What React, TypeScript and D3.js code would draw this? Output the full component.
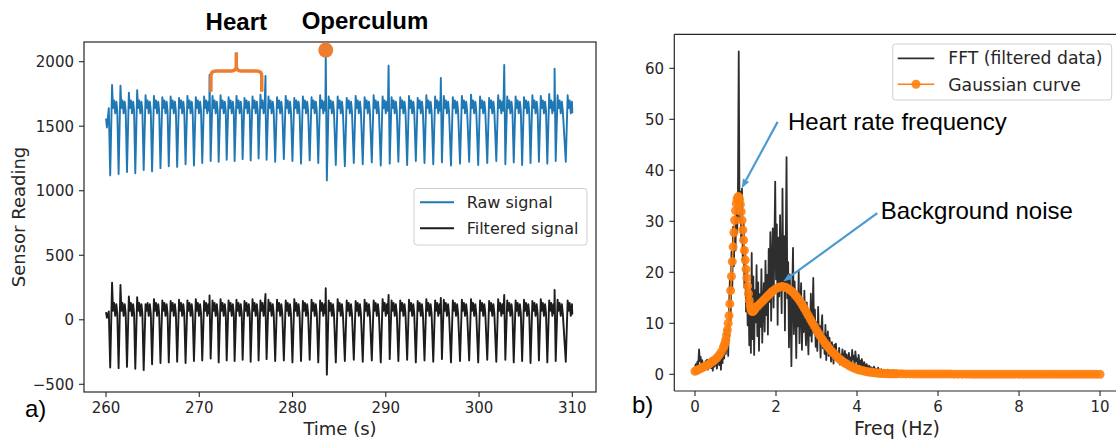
import React from 'react';
import * as d3 from 'd3';

// ---------- panel a) : sensor signals ----------
const timeTicks = [260, 270, 280, 290, 300, 310];
const readingTicks = [-500, 0, 500, 1000, 1500, 2000];

// trough time of each heart beat (s)
const beatTimes = [
  260.45, 261.35, 262.25, 263.14, 264.04, 264.94, 265.84, 266.73, 267.63, 268.53, 269.43, 270.32, 271.22,
  272.08, 272.94, 273.79, 274.65, 275.51, 276.36, 277.22,
  278.14, 279.07, 279.99, 280.91, 281.84, 282.76, 283.68,
  284.64, 285.61, 286.57, 287.53, 288.50, 289.46, 290.42,
  291.35, 292.29, 293.22, 294.15, 295.09, 296.02,
  296.99, 297.96, 298.94, 299.91, 300.88, 301.85, 302.82,
  303.72, 304.62, 305.52, 306.42, 307.32, 308.22,
  309.30,
];
const rawTroughs = [
  1119, 1130, 1145, 1135, 1160, 1150, 1175, 1190, 1185, 1205, 1195, 1215, 1230,
  1225, 1240, 1230, 1245, 1235, 1250, 1240,
  1225, 1245, 1230, 1210, 1235, 1215, 1080,
  1200, 1190, 1215, 1205, 1220, 1195, 1210,
  1225, 1200, 1230, 1215, 1205, 1220,
  1195, 1210, 1225, 1200, 1215, 1230, 1205,
  1220, 1200, 1215, 1225, 1210, 1230,
  1225,
];
const rawPeaks = [
  1820, 1815, 1760, 1780, 1740, 1735, 1725, 1730, 1720, 1735, 1725, 1730, 1735,
  1740, 1725, 1735, 1720, 1730, 1745, 1730,
  1725, 1735, 1720, 1730, 1725, 1740, 1730,
  1730, 1720, 1735, 1725, 1740, 1730, 1725,
  1725, 1735, 1720, 1740, 1730, 1735,
  1725, 1735, 1745, 1730, 1720, 1740, 1730,
  1730, 1725, 1740, 1735, 1750, 1740,
  1740,
];
const filtTroughs = [
  -370, -375, -365, -380, -390, -345, -335, -330, -325, -335, -320, -315, -300,
  -330, -315, -320, -310, -325, -315, -305,
  -320, -315, -330, -320, -310, -330, -425,
  -330, -320, -310, -325, -315, -330, -305,
  -320, -310, -330, -315, -325, -305,
  -330, -320, -315, -330, -310, -325, -310,
  -330, -320, -335, -315, -330, -320,
  -325,
];
const filtPeaks = [
  288, 270, 180, 175, 120, 160, 150, 145, 155, 150, 160, 145, 150,
  160, 150, 155, 145, 160, 150, 155,
  155, 150, 160, 145, 155, 150, 150,
  160, 150, 145, 155, 150, 160, 150,
  150, 155, 145, 160, 150, 155,
  150, 155, 160, 150, 145, 160, 150,
  150, 155, 145, 160, 150, 155,
  150,
];
// what each beat does after its trough and peak
const peakDelay = 0.2;
const beatShapeDt = [0.3, 0.42, 0.54, 0.66, 0.76];
const rawShape = [1640, 1700, 1600, 1690, 1620];
const filtShape = [70, 130, 30, 120, 50];
const rawStart: [number, number][] = [[260.0, 1560], [260.1, 1490], [260.3, 1640]];
const filtStart: [number, number][] = [[260.0, 60], [260.1, 15], [260.3, 65]];
const signalEnd = 310.0;
const rawEnd = 1600;
const filtEnd = 40;
// tall spikes (operculum movement etc.)
const spikeTimes = [271.1, 277.1, 283.56, 290.3, 295.9, 302.7, 308.1];
const rawSpikeTops = [1897, 1890, 2080, 1970, 1874, 1975, 1945];
const filtSpikeTops = [188, 200, 245, 193, 170, 193, 232];

// ---------- panel b) : spectrum ----------
const freqTicks = [0, 2, 4, 6, 8, 10];
const ampTicks = [0, 10, 20, 30, 40, 50, 60];

const fftStep = 0.02;
const fftValues = [
  1.5, 2.0, 1.2, 2.5, 1.8, 4.9, 2.6, 3.4, 1.5, 2.8,
  1.0, 2.2, 0.8, 2.6, 1.4, 2.9, 0.9, 2.0, 1.6, 3.1,
  1.2, 2.4, 0.7, 3.2, 1.5, 2.1, 3.6, 1.1, 2.7, 4.2,
  1.8, 3.9, 0.9, 4.6, 2.2, 6.8, 3.1, 8.7, 4.0, 7.3,
  9.5, 3.6, 12.8, 18.4, 10.6, 24.0, 16.7, 28.9, 21.2, 30.5,
  24.3, 33.1, 27.6, 35.0, 63.3, 30.2, 35.8, 26.1, 36.4, 22.5,
  29.7, 17.0, 24.9, 12.3, 20.4, 9.6, 16.8, 5.7, 14.3, 4.2,
  23.8, 6.9, 19.2, 3.8, 16.5, 10.2, 21.4, 7.5, 18.0, 4.6,
  15.7, 9.3, 20.6, 6.2, 13.8, 17.9, 8.4, 22.3, 11.6, 19.5,
  7.8, 24.6, 14.2, 27.9, 10.5, 22.8, 28.6, 13.1, 25.4, 37.8,
  18.6, 29.4, 9.7, 26.8, 15.3, 31.2, 20.5, 12.0, 36.4, 17.4,
  27.1, 8.6, 24.7, 42.6, 14.9, 22.0, 5.3, 19.6, 11.8, 1.6,
  16.4, 24.8, 7.9, 18.2, 12.7, 3.2, 15.5, 9.4, 20.3, 6.1,
  13.6, 17.9, 4.8, 12.2, 8.3, 16.4, 10.0, 5.7, 14.1, 9.2,
  3.9, 12.5, 7.6, 15.8, 6.4, 11.0, 18.9, 8.1, 12.7, 5.4,
  10.3, 4.6, 13.2, 7.0, 9.5, 3.3, 8.8, 11.6, 5.1, 7.9,
  4.0, 9.7, 2.8, 6.9, 8.4, 3.6, 7.2, 5.0, 2.5, 6.3,
  4.7, 2.1, 5.8, 3.4, 6.0, 2.6, 4.4, 3.1, 5.2, 1.9,
  3.8, 2.7, 4.9, 1.8, 3.5, 4.6, 2.4, 3.9, 1.6, 3.0,
  4.2, 2.3, 3.3, 1.5, 4.8, 2.9, 3.6, 1.7, 4.5, 2.6,
  3.1, 1.4, 3.8, 2.0, 2.7, 1.2, 3.0, 1.9, 1.1, 2.4,
  1.6, 0.9, 2.0, 1.3, 0.8, 1.7, 1.0, 1.4, 0.6, 1.2,
  0.9, 1.5, 0.5, 1.1, 0.8, 0.4, 1.3, 0.7, 0.9, 0.3,
  1.0, 0.6, 0.4, 0.9, 0.5, 0.8, 0.3, 0.6, 0.9, 0.4,
  0.7, 0.3, 0.6, 0.4, 0.8, 0.3, 0.5, 0.2, 0.6, 0.4,
  0.3, 0.5, 0.2, 0.4, 0.3, 0.6, 0.2, 0.3, 0.4, 0.2,
  0.3, 0.2, 0.4, 0.1, 0.3, 0.2, 0.2, 0.1, 0.2, 0.1,
];
const fftTailStart = 5.4;
const fftTailStep = 0.2;
const fftTail = [
  0.1, 0.2, 0.1, 0.1, 0.2, 0.1, 0.1, 0.1, 0.0, 0.1, 0.1, 0.0,
  0.1, 0.0, 0.1, 0.0, 0.0, 0.1, 0.0, 0.0, 0.1, 0.0, 0.0, 0.0,
];

// gaussian fit, sampled in segments of different spacing
const gaussSegments = [
  { start: 0, step: 0.05, values: [0.6, 0.8, 1.0, 1.2, 1.4, 1.6, 1.8, 2.0, 2.3, 2.6, 2.9, 3.3, 3.8, 4.4, 5.2] },
  {
    start: 0.72, step: 0.02, values: [
      5.6, 6.1, 6.8, 7.7, 8.7, 10.0, 11.5, 13.8, 16.4, 19.2,
      22.1, 25.0, 27.8, 30.2, 32.1, 33.5, 34.4, 34.8, 34.8, 34.3,
      33.3, 31.9, 30.2, 28.3, 26.3, 24.3, 22.4, 20.6, 18.9, 17.3,
      15.8, 14.5, 13.5, 12.8, 12.4, 12.3, 12.4, 12.6, 12.8, 13.1,
    ],
  },
  {
    start: 1.55, step: 0.05, values: [
      13.4, 13.8, 14.2, 14.6, 15.0, 15.4, 15.8, 16.2, 16.5, 16.8,
      17.0, 17.1, 17.2, 17.1, 17.0, 16.8, 16.5, 16.2, 15.8, 15.3,
      14.8, 14.2, 13.6, 12.9, 12.2, 11.5, 10.8, 10.1, 9.4, 8.7,
      8.0, 7.4, 6.8, 6.2, 5.7, 5.2, 4.7, 4.3, 3.9, 3.5,
      3.1, 2.8, 2.5, 2.2, 2.0, 1.7, 1.5, 1.3, 1.2, 1.0,
      0.9, 0.8, 0.7, 0.6, 0.5, 0.45, 0.4, 0.35, 0.3, 0.25,
      0.22, 0.2, 0.17, 0.15, 0.13, 0.12, 0.1, 0.1, 0.1, 0.1,
    ],
  },
  {
    start: 5.1, step: 0.1, values: [
      0.09, 0.08, 0.08, 0.07, 0.07, 0.06, 0.06, 0.05, 0.05, 0.05,
      0.04, 0.04, 0.04, 0.03, 0.03, 0.03, 0.03, 0.02, 0.02, 0.02,
      0.02, 0.02, 0.02, 0.01, 0.01, 0.01, 0.01, 0.01, 0.01, 0.01,
      0.01, 0.01, 0.01, 0.01, 0.0, 0.0, 0.0, 0.0, 0.0, 0.0,
      0.0, 0.0, 0.0, 0.0, 0.0, 0.0, 0.0, 0.0, 0.0, 0.0,
    ],
  },
];

const BLUE = '#1f77b4';
const BLACK = '#1c1c1c';
const FFT_GREY = '#2e2e2e';
const ORANGE = '#ff7f0e';
const ANNOT = '#ed7d31';
const ARROW = '#4c9bd0';
const AXIS = '#262626';
const TICK_FONT = 'DejaVu Sans, sans-serif';
const ARIAL = 'Liberation Sans, Arial, sans-serif';

function buildSignal(start: [number, number][], troughs: number[], peaks: number[], shape: number[], spikes: number[], end: number) {
  const pts: [number, number][] = [...start];
  beatTimes.forEach((t, i) => {
    pts.push([t, troughs[i]]);
    pts.push([t + peakDelay, peaks[i]]);
    beatShapeDt.forEach((dt, k) => {
      if (t + dt < signalEnd) pts.push([t + dt, shape[k]]);
    });
  });
  spikeTimes.forEach((t, i) => pts.push([t, spikes[i]]));
  pts.push([signalEnd, end]);
  pts.sort((a, b) => a[0] - b[0]);
  return pts;
}

export default function App() {
  // panel a
  const A = { x0: 84, x1: 596, y0: 42, y1: 392 };
  const xA = d3.scaleLinear().domain([257.64, 312.54]).range([A.x0, A.x1]);
  const yA = d3.scaleLinear().domain([-559.7, 2152.7]).range([A.y1, A.y0]);
  const lineA = d3.line<[number, number]>().x(d => xA(d[0])).y(d => yA(d[1]));
  const rawPts = buildSignal(rawStart, rawTroughs, rawPeaks, rawShape, rawSpikeTops, rawEnd);
  const filtPts = buildSignal(filtStart, filtTroughs, filtPeaks, filtShape, filtSpikeTops, filtEnd);

  // panel b
  const B = { x0: 674.3, x1: 1120.3, y0: 34.3, y1: 391 };
  const xB = d3.scaleLinear().domain([-0.511, 10.5]).range([B.x0, B.x1]);
  const yB = d3.scaleLinear().domain([-3.27, 66.67]).range([B.y1, B.y0]);
  const lineB = d3.line<[number, number]>().x(d => xB(d[0])).y(d => yB(d[1]));
  const fftPts: [number, number][] = [
    ...fftValues.map((v, i) => [i * fftStep, v] as [number, number]),
    ...fftTail.map((v, i) => [fftTailStart + i * fftTailStep, v] as [number, number]),
  ];
  const gaussPts: [number, number][] = gaussSegments.flatMap(s =>
    s.values.map((v, i) => [s.start + i * s.step, v] as [number, number])
  );

  // bracket over a few heart beats
  const bx0 = xA(271.25), bx1 = xA(276.7), bxm = xA(273.97);
  const byArm = yA(1768), byBar = yA(1928), byTip = yA(2073);
  const rr = 5;
  const bracket = `M${bx0},${byArm} L${bx0},${byBar + rr} Q${bx0},${byBar} ${bx0 + rr},${byBar} L${bxm - rr},${byBar} Q${bxm},${byBar} ${bxm},${byBar - rr} L${bxm},${byTip} M${bxm},${byBar - rr} Q${bxm},${byBar} ${bxm + rr},${byBar} L${bx1 - rr},${byBar} Q${bx1},${byBar} ${bx1},${byBar + rr} L${bx1},${byArm}`;

  const arrow = (fx0: number, fy0: number, fx1: number, fy1: number, key: string) => {
    const x0 = xB(fx0), y0 = yB(fy0), x1 = xB(fx1), y1 = yB(fy1);
    const ang = Math.atan2(y1 - y0, x1 - x0);
    const hl = 9, hw = 3.5;
    const bxp = x1 - hl * Math.cos(ang), byp = y1 - hl * Math.sin(ang);
    const px = -Math.sin(ang) * hw, py = Math.cos(ang) * hw;
    return (
      <g key={key}>
        <line x1={x0} y1={y0} x2={bxp} y2={byp} stroke={ARROW} strokeWidth={2.2} />
        <polygon points={`${x1},${y1} ${bxp + px},${byp + py} ${bxp - px},${byp - py}`} fill={ARROW} />
      </g>
    );
  };

  return (
    <svg width={1116} height={443} style={{ position: 'absolute', left: 0, top: 0, background: '#fff' }}>
      {/* ===== panel a ===== */}
      <path d={lineA(rawPts) ?? ''} fill="none" stroke={BLUE} strokeWidth={1.9} strokeLinejoin="round" />
      <path d={lineA(filtPts) ?? ''} fill="none" stroke={BLACK} strokeWidth={1.9} strokeLinejoin="round" />
      <rect x={A.x0} y={A.y0} width={A.x1 - A.x0} height={A.y1 - A.y0} fill="none" stroke={AXIS} strokeWidth={1.2} />
      {timeTicks.map(t => (
        <g key={`xa${t}`}>
          <line x1={xA(t)} x2={xA(t)} y1={A.y1} y2={A.y1 + 5} stroke={AXIS} strokeWidth={1.1} />
          <text x={xA(t)} y={412.5} textAnchor="middle" fontFamily={TICK_FONT} fontSize={15} fill={AXIS}>{t}</text>
        </g>
      ))}
      {readingTicks.map(t => (
        <g key={`ya${t}`}>
          <line x1={A.x0 - 5} x2={A.x0} y1={yA(t)} y2={yA(t)} stroke={AXIS} strokeWidth={1.1} />
          <text x={74} y={yA(t) + 5.4} textAnchor="end" fontFamily={TICK_FONT} fontSize={15} fill={AXIS}>{t < 0 ? `−${-t}` : t}</text>
        </g>
      ))}
      <text x={(A.x0 + A.x1) / 2} y={435} textAnchor="middle" fontFamily={TICK_FONT} fontSize={18} fill={AXIS}>Time (s)</text>
      <text transform={`translate(25,${(A.y0 + A.y1) / 2}) rotate(-90)`} textAnchor="middle" fontFamily={TICK_FONT} fontSize={18} fill={AXIS}>Sensor Reading</text>

      {/* legend a */}
      <rect x={414} y={188.5} width={173} height={56.5} rx={3} fill="#fff" fillOpacity={0.8} stroke="#d0d0d0" strokeWidth={1} />
      <line x1={420} x2={454} y1={202.3} y2={202.3} stroke={BLUE} strokeWidth={1.9} />
      <line x1={420} x2={454} y1={228.3} y2={228.3} stroke={BLACK} strokeWidth={1.9} />
      <text x={466.7} y={208.3} fontFamily={TICK_FONT} fontSize={16} fill={AXIS}>Raw signal</text>
      <text x={466.7} y={234.3} fontFamily={TICK_FONT} fontSize={16} fill={AXIS}>Filtered signal</text>

      {/* annotations a */}
      <path d={bracket} fill="none" stroke={ANNOT} strokeWidth={3.5} strokeLinecap="butt" />
      <text x={bxm} y={30} textAnchor="middle" fontFamily={ARIAL} fontWeight="bold" fontSize={24} fill="#000">Heart</text>
      <circle cx={xA(spikeTimes[2])} cy={yA(2090)} r={7.5} fill={ANNOT} />
      <text x={365} y={29} textAnchor="middle" fontFamily={ARIAL} fontWeight="bold" fontSize={24} fill="#000">Operculum</text>
      <text x={25} y={417} fontFamily={ARIAL} fontSize={24} fill="#000">a)</text>

      {/* ===== panel b ===== */}
      <path d={lineB(fftPts) ?? ''} fill="none" stroke={FFT_GREY} strokeWidth={1.8} strokeLinejoin="round" />
      <path d={lineB(gaussPts) ?? ''} fill="none" stroke={ORANGE} strokeWidth={1.6} />
      {gaussPts.map((d, i) => (
        <circle key={`g${i}`} cx={xB(d[0])} cy={yB(d[1])} r={4.5} fill={ORANGE} fillOpacity={0.9} />
      ))}
      <line x1={B.x0} x2={B.x0} y1={B.y0} y2={B.y1} stroke={AXIS} strokeWidth={1.2} />
      <line x1={B.x0} x2={1116} y1={B.y0} y2={B.y0} stroke={AXIS} strokeWidth={1.2} />
      <line x1={B.x0} x2={1116} y1={B.y1} y2={B.y1} stroke={AXIS} strokeWidth={1.2} />
      {freqTicks.map(t => (
        <g key={`xb${t}`}>
          <line x1={xB(t)} x2={xB(t)} y1={B.y1} y2={B.y1 + 5} stroke={AXIS} strokeWidth={1.1} />
          <text x={xB(t)} y={411.7} textAnchor="middle" fontFamily={TICK_FONT} fontSize={15} fill={AXIS}>{t}</text>
        </g>
      ))}
      {ampTicks.map(t => (
        <g key={`yb${t}`}>
          <line x1={B.x0 - 5} x2={B.x0} y1={yB(t)} y2={yB(t)} stroke={AXIS} strokeWidth={1.1} />
          <text x={664} y={yB(t) + 5.4} textAnchor="end" fontFamily={TICK_FONT} fontSize={15} fill={AXIS}>{t}</text>
        </g>
      ))}
      <text x={897} y={435} textAnchor="middle" fontFamily={TICK_FONT} fontSize={19} fill={AXIS}>Freq (Hz)</text>

      {/* legend b */}
      <rect x={892.7} y={44} width={219} height={56} rx={3} fill="#fff" fillOpacity={0.8} stroke="#d0d0d0" strokeWidth={1} />
      <line x1={897.7} x2={934.3} y1={58.3} y2={58.3} stroke={FFT_GREY} strokeWidth={1.8} />
      <line x1={897.7} x2={934.3} y1={84.3} y2={84.3} stroke={ORANGE} strokeWidth={1.6} />
      <circle cx={916} cy={84.3} r={4.5} fill={ORANGE} fillOpacity={0.9} />
      <text x={948.3} y={64.3} fontFamily={TICK_FONT} fontSize={17.2} fill={AXIS}>FFT (filtered data)</text>
      <text x={948.3} y={90.5} fontFamily={TICK_FONT} fontSize={17.2} fill={AXIS}>Gaussian curve</text>

      {/* annotations b */}
      {arrow(2.04, 49.5, 1.153, 36.5, 'hr')}
      {arrow(4.5, 31.6, 2.18, 18.2, 'bg')}
      <text x={788} y={130} fontFamily={ARIAL} fontSize={24} fill="#000">Heart rate frequency</text>
      <text x={880.7} y={219} fontFamily={ARIAL} fontSize={24} fill="#000">Background noise</text>
      <text x={632} y={413} fontFamily={ARIAL} fontSize={24} fill="#000">b)</text>
    </svg>
  );
}
